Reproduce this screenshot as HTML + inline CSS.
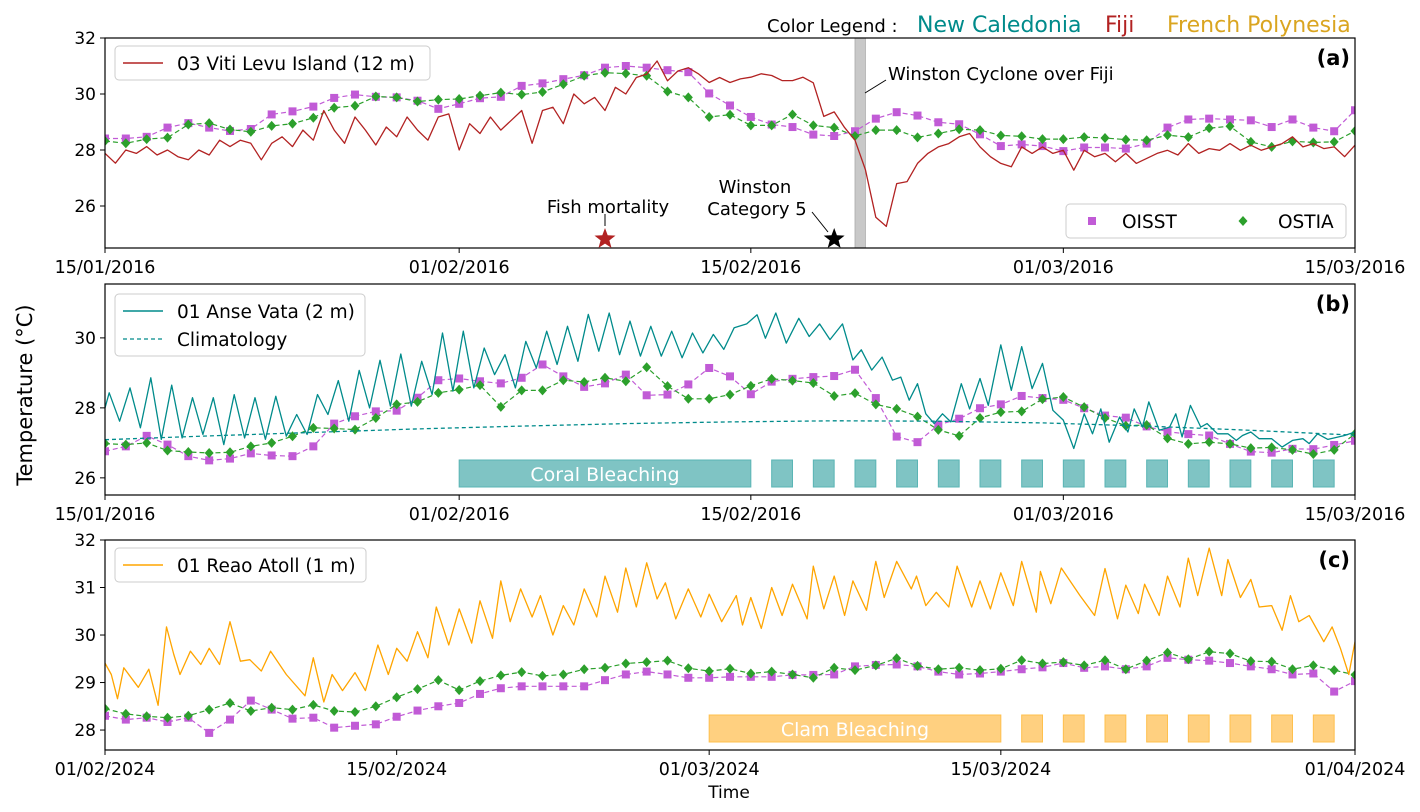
<!DOCTYPE html>
<html><head><meta charset="utf-8">
<style>
body{margin:0;background:#fff;}
svg{display:block;font-family:"DejaVu Sans","Liberation Sans",sans-serif;}
</style></head>
<body>
<svg id="chart" width="1420" height="812" viewBox="0 0 1420 812" xmlns="http://www.w3.org/2000/svg">
<text x="767" y="32" font-size="18" fill="#000">Color Legend :</text>
<text x="917" y="32" font-size="22" fill="#008b8b">New Caledonia</text>
<text x="1105" y="32" font-size="22" fill="#b22222">Fiji</text>
<text x="1167" y="32" font-size="22" fill="#daa520">French Polynesia</text>
<text x="0" y="0" font-size="21" transform="translate(32,395) rotate(-90)" text-anchor="middle">Temperature (°C)</text>
<text x="729" y="798" font-size="17" text-anchor="middle">Time</text>
</svg>
<script>
// ---------- DATA ----------
const fijiDates = ["15/01/2016","01/02/2016","15/02/2016","01/03/2016","15/03/2016"];
const fijiTickDays = [0,17,31,46,60];
const reaoDates = ["01/02/2024","15/02/2024","01/03/2024","15/03/2024","01/04/2024"];
const reaoTickDays = [0,14,29,43,60];
const yTicksA = [26,28,30,32];
const yTicksB = [26,28,30];
const yTicksC = [28,29,30,31,32];

// Panel a (Fiji), daily satellite
const oisstA = [28.41,28.41,28.47,28.8,28.96,28.8,28.68,28.75,29.27,29.38,29.55,29.86,29.98,29.9,29.88,29.76,29.47,29.65,29.85,29.9,30.29,30.38,30.53,30.67,30.94,31.0,30.94,30.85,30.78,30.02,29.59,
29.18,28.91,28.82,28.55,28.5,28.67,29.12,29.35,29.23,28.99,28.92,28.56,28.14,28.2,28.14,27.96,28.09,28.09,28.05,28.23,28.8,29.09,29.12,29.09,29.06,28.82,29.09,28.8,28.67,29.42];
const ostiaA = [28.32,28.24,28.39,28.44,28.91,28.96,28.73,28.65,28.86,28.94,29.15,29.51,29.58,29.91,29.88,29.73,29.8,29.82,29.94,30.05,29.98,30.07,30.35,30.65,30.76,30.73,30.65,30.09,29.88,29.18,29.26,
28.88,28.88,29.27,28.88,28.8,28.5,28.71,28.71,28.45,28.59,28.74,28.71,28.52,28.49,28.39,28.39,28.46,28.43,28.37,28.35,28.53,28.46,28.78,28.85,28.29,28.11,28.31,28.27,28.29,28.68];
// Fiji in-situ, every half day from day 0
const fijiSeries = [27.88,27.53,28.0,27.88,28.12,27.82,28.0,27.76,27.65,28.0,27.82,28.35,28.12,28.35,28.24,27.65,28.24,28.47,28.12,28.71,28.35,29.41,28.71,28.24,29.18,28.71,28.18,28.82,28.47,29.18,28.71,28.35,29.18,29.29,28.0,28.94,28.59,29.18,28.71,29.06,29.41,28.24,29.41,29.53,28.94,30.0,29.65,29.88,29.41,30.24,30.0,30.59,30.71,31.18,30.47,30.82,30.94,30.71,30.41,30.59,30.41,
30.54,30.6,30.72,30.66,30.48,30.48,30.6,30.4,29.2,29.36,28.8,28.35,27.3,25.6,25.27,26.8,26.87,27.52,27.88,28.11,28.23,28.47,28.59,28.11,27.76,27.52,27.4,28.11,27.88,28.11,27.88,27.99,27.28,27.99,27.76,27.88,27.58,27.88,27.52,27.7,27.88,27.99,27.82,28.23,27.88,28.05,27.99,28.23,27.99,28.17,27.99,28.11,28.23,28.47,28.11,28.23,28.05,28.11,27.76,28.17];
const fishMortalityDay = 24;
const winstonCat5Day = 35;
const cycloneStart = 36.0, cycloneEnd = 36.5;

// Panel b (New Caledonia)
const oisstB = [26.76,26.9,27.2,26.95,26.62,26.5,26.55,26.7,26.64,26.62,26.9,27.55,27.76,27.9,27.92,28.29,28.79,28.84,28.76,28.7,28.86,29.24,28.9,28.6,28.7,28.95,28.36,28.38,28.67,29.14,28.9,
28.39,28.75,28.83,28.88,28.91,29.09,28.28,27.18,27.02,27.51,27.69,27.99,28.1,28.34,28.28,28.23,27.99,27.78,27.72,27.47,27.32,27.25,27.21,26.97,26.75,26.72,26.83,26.82,26.94,27.06];
const ostiaB = [26.98,26.95,27.0,26.78,26.74,26.71,26.73,26.9,27.0,27.19,27.43,27.41,27.38,27.71,28.1,28.17,28.43,28.52,28.65,28.03,28.5,28.5,28.79,28.74,28.86,28.76,29.16,28.62,28.26,28.26,28.38,
28.63,28.83,28.78,28.71,28.34,28.42,28.1,27.97,27.75,27.37,27.2,27.71,27.88,27.9,28.25,28.31,28.02,27.71,27.49,27.51,27.13,26.97,27.02,26.97,26.85,26.87,26.8,26.68,26.8,27.26];
const climDays = [0,5,10,15,20,25,30,35,40,45,50,55,60];
const climVals = [27.09,27.2,27.3,27.4,27.48,27.55,27.6,27.63,27.62,27.57,27.48,27.36,27.22];
const anseDays = [0,0.2,0.7,1.2,1.7,2.2,2.7,3.2,3.7,4.2,4.7,5.2,5.7,6.2,6.7,7.2,7.7,8.2,8.7,9.2,9.7,10.2,10.7,11.2,11.7,12.2,12.7,13.2,13.7,14.2,14.7,15.2,15.7,16.2,16.7,17.2,17.7,18.2,18.7,19.2,19.7,20.2,20.7,21.2,21.7,22.2,22.7,23.2,23.7,24.2,24.7,25.2,25.7,26.2,26.7,27.2,27.7,28.2,28.7,29.2,29.7,30.2,
30.8,31.3,31.7,32.2,32.7,33.3,33.8,34.3,34.8,35.4,35.9,36.3,36.8,37.3,37.8,38.2,38.6,39,39.4,39.8,40.2,40.6,41.1,41.5,42.0,42.4,43,43.5,44,44.5,45,45.5,46.0,46.5,47,47.4,47.8,48.2,48.7,49.1,49.4,49.8,50.1,50.6,51.1,51.4,51.7,52.1,52.6,52.9,53.4,53.9,54.3,54.6,55,55.4,56,56.5,57,57.5,57.8,58.2,58.7,59.5,60];
const anseVals = [28.0,28.43,27.62,28.57,27.43,28.86,27.1,28.65,27.14,28.29,27.24,28.29,26.95,28.38,27.14,28.29,27.1,28.33,27.19,27.81,27.24,28.38,27.81,28.78,27.62,29.07,28.0,29.36,28.05,29.54,28.05,29.33,28.38,30.14,28.48,30.19,28.57,29.71,28.95,29.52,28.57,29.9,29.14,30.19,29.24,30.33,29.33,30.67,29.62,30.71,29.52,30.48,29.48,30.33,29.48,30.19,29.43,30.14,29.57,30.1,29.67,30.29,
30.4,30.66,29.99,30.71,29.85,30.56,30.04,30.4,29.95,30.4,29.37,29.66,29.08,29.45,28.79,28.88,28.22,28.69,27.83,27.55,27.83,27.6,28.69,27.97,28.84,28.07,29.8,28.5,29.75,28.55,29.27,27.93,27.65,26.84,27.83,27.26,27.97,27.02,27.74,27.31,27.97,27.45,28.17,27.36,27.45,27.83,27.17,28.07,27.45,27.55,27.26,27.26,27.07,27.21,27.31,27.12,27.12,26.88,27.07,27.12,26.98,27.26,27.1,27.21,27.31];
const coralStarts = [17,32,34,36,38,40,42,44,46,48,50,52,54,56,58];
const coralEnds   = [31,33,35,37,39,41,43,45,47,49,51,53,55,57,59];

// Panel c (French Polynesia)
const oisstC = [28.3,28.22,28.26,28.17,28.26,27.94,28.22,28.62,28.43,28.24,28.26,28.05,28.09,28.12,28.28,28.41,28.5,28.57,28.76,28.88,28.92,28.92,28.92,28.92,29.05,29.17,29.23,29.17,29.1,29.1,29.12,
29.12,29.12,29.16,29.16,29.17,29.34,29.37,29.38,29.34,29.23,29.17,29.19,29.23,29.28,29.32,29.41,29.31,29.34,29.28,29.34,29.52,29.48,29.46,29.41,29.34,29.28,29.17,29.19,28.81,29.03];
const ostiaC = [28.45,28.34,28.29,28.26,28.3,28.43,28.57,28.4,28.47,28.43,28.53,28.4,28.38,28.5,28.69,28.86,29.05,28.84,29.03,29.15,29.22,29.14,29.17,29.28,29.31,29.4,29.43,29.46,29.3,29.24,29.29,
29.19,29.23,29.17,29.1,29.31,29.26,29.36,29.51,29.35,29.28,29.31,29.26,29.29,29.47,29.4,29.43,29.36,29.47,29.28,29.46,29.63,29.49,29.65,29.61,29.45,29.44,29.28,29.36,29.26,29.16];
const reaoDays = [0,0.3,0.6,0.9,1.6,2.1,2.55,2.95,3.3,3.6,4.1,4.6,5.0,5.5,6.0,6.5,6.95,7.5,7.95,8.7,9.6,10,10.5,10.9,11.4,12,12.5,13.1,13.6,14,14.5,15,15.5,15.9,16.5,17,17.6,18,18.6,19,19.45,19.95,20.5,20.9,21.5,22,22.5,23,23.6,24,24.6,25,25.5,26,26.5,26.9,27.4,28,28.6,29,29.6,
30.3,30.6,31,31.5,32,32.5,33,33.7,34,34.5,35,35.5,35.9,36.55,37,37.4,38,38.7,38.95,39.4,39.9,40.5,40.9,41.6,42,42.5,43,43.6,44,44.7,44.9,45.4,45.9,46.8,47.5,48,48.6,49,49.6,49.9,50.6,51,51.6,52,52.45,53,53.6,53.9,54.5,55,55.4,56,56.5,56.9,57.3,57.8,58.5,58.9,59.3,59.7,60];
const reaoVals = [29.41,29.17,28.66,29.31,28.9,29.28,28.52,30.17,29.59,29.17,29.66,29.38,29.72,29.38,30.28,29.45,29.48,29.24,29.66,29.17,28.72,29.52,28.59,29.17,28.83,29.21,28.83,29.79,29.17,29.72,29.45,30.07,29.52,30.59,29.79,30.55,29.83,30.72,29.93,31.14,30.28,30.97,30.38,30.83,30.0,30.62,30.21,30.97,30.38,31.24,30.48,31.41,30.59,31.52,30.76,31.1,30.34,30.97,30.38,30.86,30.28,
30.83,30.21,30.79,30.14,31.0,30.41,31.07,30.34,31.45,30.55,31.24,30.41,31.14,30.52,31.55,30.79,31.55,30.97,31.24,30.62,30.9,30.59,31.45,30.59,31.14,30.55,31.31,30.62,31.55,30.48,31.34,30.66,31.41,30.83,30.41,31.4,30.34,31.05,30.45,31.07,30.41,31.24,30.59,31.62,30.83,31.83,30.83,31.59,30.79,31.17,30.59,30.62,30.1,30.83,30.28,30.41,29.86,30.17,29.72,29.17,29.86];
const clamStarts = [29,44,46,48,50,52,54,56,58];
const clamEnds   = [43,45,47,49,51,53,55,57,59];

// ---------- DRAW ----------
const NS = "http://www.w3.org/2000/svg";
const svg = document.getElementById('chart');
const L = 105, R = 1355, NDAYS = 60;
function mk(tag, attrs, parent){const e=document.createElementNS(NS,tag);for(const k in attrs)e.setAttribute(k,attrs[k]);(parent||svg).appendChild(e);return e;}
function xs(d){return L + (R-L)*d/NDAYS;}
function panel(top,bot,ymin,ymax){return {top,bot,y:v=>bot-(bot-top)*(v-ymin)/(ymax-ymin)};}
const pA = panel(38,248,24.5,32), pB = panel(284,495,25.51,31.54), pC = panel(540,750,27.58,32);

function clip(id,p){const c=mk('clipPath',{id:id});mk('rect',{x:L,y:p.top,width:R-L,height:p.bot-p.top},c);}
clip('cA',pA);clip('cB',pB);clip('cC',pC);

function axes(p,name,yt,dates,tickDays){
  const g=mk('g',{});
  
  
  yt.forEach(v=>{
    const yy=p.y(v);
    mk('line',{x1:L-5,x2:L,y1:yy,y2:yy,stroke:'#000','stroke-width':1},g);
    const t=mk('text',{x:L-9,y:yy+6,'font-size':17,'text-anchor':'end'},g);t.textContent=v;
    
    
  });
  dates.forEach((s,i)=>{
    const xx=xs(tickDays[i]);
    mk('line',{x1:xx,x2:xx,y1:p.bot,y2:p.bot+5,stroke:'#000','stroke-width':1},g);
    const t=mk('text',{x:xx,y:p.bot+25,'font-size':17.5,'text-anchor':'middle'},g);t.textContent=s;
    
    
  });
}
function frame(p,name){
  const r=mk('rect',{x:L,y:p.top,width:R-L,height:p.bot-p.top,fill:'none',stroke:'#000','stroke-width':1.2});
  
  
}
function line(p,days,vals,color,w,name,cl,dash){
  let d='';vals.forEach((v,i)=>{d+=(i?'L':'M')+xs(days[i]).toFixed(1)+','+p.y(v).toFixed(1);});
  const e=mk('path',{d:d,fill:'none',stroke:color,'stroke-width':w,'clip-path':'url(#'+cl+')','stroke-linejoin':'round'});
  if(dash)e.setAttribute('stroke-dasharray',dash);
  
  
}
function daily(vals){return vals.map((v,i)=>i);}
function halfDays(vals){return vals.map((v,i)=>i*0.5);}
function markers(p,vals,kind,name,cl){
  line(p,daily(vals),vals,kind==='sq'?'#c15bd6':'#2ca02c',1.2,name+'-line',cl,'5,3');
  vals.forEach((v,i)=>{
    const cx=xs(i),cy=p.y(v);let e;
    if(kind==='sq') e=mk('rect',{x:cx-4,y:cy-4,width:8,height:8,fill:'#c15bd6'});
    else e=mk('path',{d:`M${cx},${cy-5}L${cx+4.5},${cy}L${cx},${cy+5}L${cx-4.5},${cy}Z`,fill:'#2ca02c'});
    e.setAttribute('clip-path','url(#'+cl+')');
    
    
  });
}
function bleach(p,starts,ends,fill,stroke,label,name){
  starts.forEach((s,i)=>{
    const r=mk('rect',{x:xs(s),y:p.bot-35,width:xs(ends[i])-xs(s),height:27,fill:fill,stroke:stroke,'stroke-width':1});
    
    
  });
  const t=mk('text',{x:(xs(starts[0])+xs(ends[0]))/2,y:p.bot-14,'font-size':19,fill:'#fff','text-anchor':'middle'});
  t.textContent=label;
  
  
}
function panelLabel(p,txt,name){
  const t=mk('text',{x:1350,y:p.top+27,'font-size':21,'font-weight':'bold','text-anchor':'end'});t.textContent=txt;
  
  
}
function legendBox(x,y,w,h,name){
  const r=mk('rect',{x:x,y:y,width:w,height:h,rx:4,fill:'#fff','fill-opacity':0.85,stroke:'#ccc'});
  
  
}
function legText(x,y,txt,name){const t=mk('text',{x:x,y:y,'font-size':18.5});t.textContent=txt;
  
  }
function star(cx,cy,r,fill,name){
  let d='';for(let k=0;k<10;k++){const rr=k%2?r*0.42:r;const a=-Math.PI/2+k*Math.PI/5;d+=(k?'L':'M')+(cx+rr*Math.cos(a)).toFixed(1)+','+(cy+rr*Math.sin(a)).toFixed(1);}
  const e=mk('path',{d:d+'Z',fill:fill});
  
  
}

// Panel A
const band=mk('rect',{x:xs(cycloneStart),y:pA.top,width:xs(cycloneEnd)-xs(cycloneStart),height:pA.bot-pA.top,fill:'#c8c8c8',stroke:'#aaa','stroke-width':0.8});


markers(pA,oisstA,'sq','oisst-a','cA');
markers(pA,ostiaA,'di','ostia-a','cA');
line(pA,halfDays(fijiSeries),fijiSeries,'#b22222',1.3,'fiji-viti-levu-line','cA');
axes(pA,'panel-a',yTicksA,fijiDates,fijiTickDays);
frame(pA,'panel-a');
panelLabel(pA,'(a)','panel-a-label');
legendBox(115,46,315,34,'panel-a-legend');
mk('line',{x1:123,x2:163,y1:63,y2:63,stroke:'#b22222','stroke-width':1.5});
legText(177,70,'03 Viti Levu Island (12 m)','legend-viti-levu');
legendBox(1066,204,280,34,'satellite-legend');
mk('rect',{x:1088,y:217,width:8,height:8,fill:'#c15bd6'});
legText(1122,228,'OISST','legend-oisst');
mk('path',{d:'M1243,216L1247.5,221L1243,226L1238.5,221Z',fill:'#2ca02c'});
legText(1278,228,'OSTIA','legend-ostia');
const fx=xs(fishMortalityDay);
star(fx,pA.bot-9,11,'#b22222','fish-mortality-star');
mk('line',{x1:fx,x2:fx,y1:214,y2:226,stroke:'#000','stroke-width':1});
const ft=mk('text',{x:fx+3,y:213,'font-size':18,'text-anchor':'middle'});ft.textContent='Fish mortality';


const wx=xs(winstonCat5Day);
star(wx,pA.bot-9,11,'#000','winston-category5-star');
mk('line',{x1:812,x2:828,y1:212,y2:232,stroke:'#000','stroke-width':1});
const w1=mk('text',{x:755,y:193,'font-size':18,'text-anchor':'middle'});w1.textContent='Winston';


const w2=mk('text',{x:757,y:215,'font-size':18,'text-anchor':'middle'});w2.textContent='Category 5';


mk('line',{x1:865,x2:886,y1:93,y2:80,stroke:'#000','stroke-width':1});
const wc=mk('text',{x:888,y:80,'font-size':18});wc.textContent='Winston Cyclone over Fiji';



// Panel B
markers(pB,oisstB,'sq','oisst-b','cB');
markers(pB,ostiaB,'di','ostia-b','cB');
line(pB,anseDays,anseVals,'#008b8b',1.3,'anse-vata-line','cB');
line(pB,climDays,climVals,'#008b8b',1.3,'climatology-line','cB','4,3');
bleach(pB,coralStarts,coralEnds,'#7fc4c4','#5ab5b5','Coral Bleaching','coral-bleaching');
axes(pB,'panel-b',yTicksB,fijiDates,fijiTickDays);
frame(pB,'panel-b');
panelLabel(pB,'(b)','panel-b-label');
legendBox(115,294,250,62,'panel-b-legend');
mk('line',{x1:123,x2:163,y1:311,y2:311,stroke:'#008b8b','stroke-width':1.5});
legText(177,318,'01 Anse Vata (2 m)','legend-anse-vata');
mk('line',{x1:123,x2:163,y1:339,y2:339,stroke:'#008b8b','stroke-width':1.3,'stroke-dasharray':'4,3'});
legText(177,346,'Climatology','legend-climatology');

// Panel C
markers(pC,oisstC,'sq','oisst-c','cC');
markers(pC,ostiaC,'di','ostia-c','cC');
line(pC,reaoDays,reaoVals,'#ffa500',1.3,'reao-atoll-line','cC');
bleach(pC,clamStarts,clamEnds,'#ffd080','#ffc04d','Clam Bleaching','clam-bleaching');
axes(pC,'panel-c',yTicksC,reaoDates,reaoTickDays);
frame(pC,'panel-c');
panelLabel(pC,'(c)','panel-c-label');
legendBox(115,548,251,34,'panel-c-legend');
mk('line',{x1:123,x2:163,y1:565,y2:565,stroke:'#ffa500','stroke-width':1.5});
legText(177,572,'01 Reao Atoll (1 m)','legend-reao-atoll');
</script>
</body></html>
